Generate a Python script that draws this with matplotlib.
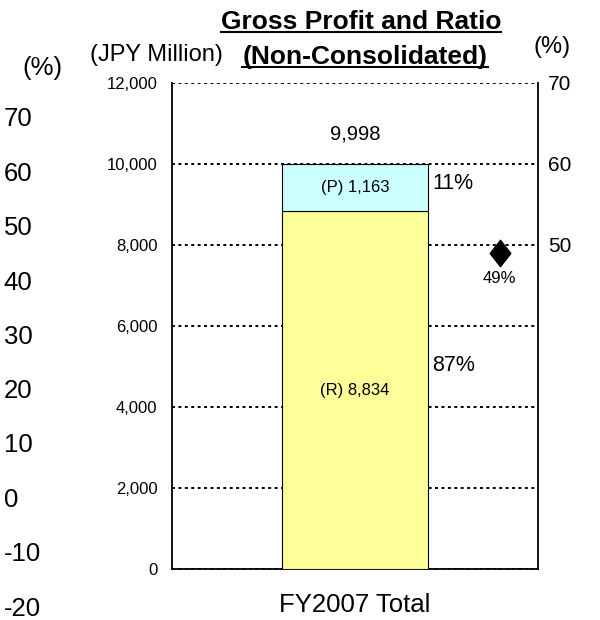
import matplotlib
matplotlib.use('Agg')
import matplotlib.pyplot as plt
from matplotlib.lines import Line2D
from matplotlib.path import Path

plt.rcParams['font.family'] = ['Liberation Sans', 'DejaVu Sans']

# Data
categories = ['FY2007 Total']
r_values = [8834]
p_values = [1163]
total_values = [9998]
r_ratio_labels = ['87%']
p_ratio_labels = ['11%']
gross_ratio = [49]
gross_ratio_labels = ['49%']
left_pct_ticks = [-20, -10, 0, 10, 20, 30, 40, 50, 60, 70]

fig = plt.figure(figsize=(6, 6.2), dpi=100)
ax = fig.add_axes([0.2867, 0.0823, 0.61, 0.7839])

x = [0]
ax.bar(x, r_values, width=0.8, color='#FFFF99', edgecolor='black', linewidth=0.8, zorder=3)
ax.bar(x, p_values, width=0.8, bottom=r_values, color='#CCFFFF', edgecolor='black', linewidth=0.8, zorder=3)

ax.set_xlim(-1, 1)
ax.set_ylim(0, 12000)
ax.set_yticks(range(0, 12001, 2000))
ax.set_yticklabels([f'{v:,}' for v in range(0, 12001, 2000)], fontsize=12)
ax.set_xticks(x)
ax.set_xticklabels(categories, fontsize=18.5)
ax.tick_params(axis='y', length=0, pad=10.5)
ax.tick_params(axis='x', length=0, pad=17)
ax.yaxis.grid(True, linestyle=(0, (1.5, 1.8)), color='black', linewidth=1.4, zorder=1)
ax.set_axisbelow(True)
ax.spines['top'].set_visible(False)
for s in ['left', 'right', 'bottom']:
    ax.spines[s].set_linewidth(1.3)

# Bar labels
for i in range(len(x)):
    ax.text(x[i], r_values[i] / 2, f'(R) {r_values[i]:,}', ha='center', va='center', fontsize=12, zorder=5)
    ax.text(x[i], r_values[i] + p_values[i] / 2, f'(P) {p_values[i]:,}', ha='center', va='center', fontsize=12, zorder=5)
    ax.text(x[i], total_values[i] + 750, f'{total_values[i]:,}', ha='center', va='center', fontsize=14.5)
    ax.text(x[i] + 0.42, r_values[i] + p_values[i] / 2 + 100, p_ratio_labels[i], ha='left', va='center', fontsize=15.5)
    ax.text(x[i] + 0.42, r_values[i] / 2 + 600, r_ratio_labels[i], ha='left', va='center', fontsize=15.5)

# Ratio axis (right)
ax2 = ax.twinx()
ax2.set_ylim(10, 70)
ax2.set_yticks([50, 60, 70])
ax2.set_yticklabels(['50', '60', '70'], fontsize=15)
ax2.tick_params(axis='y', length=0, pad=7)
for s in ax2.spines.values():
    s.set_visible(False)
diamond = Path([(0, 1), (0.78, 0), (0, -1), (-0.78, 0), (0, 1)],
               [Path.MOVETO, Path.LINETO, Path.LINETO, Path.LINETO, Path.CLOSEPOLY])
ax2.plot([0.79], gross_ratio, marker=diamond, markersize=19, color='black', linestyle='none', zorder=6)
ax2.text(0.79, gross_ratio[0] - 3.2, gross_ratio_labels[0], ha='center', va='center', fontsize=12)

# Detached left percentage axis
ax3 = fig.add_axes([0.005, 1 - 606 / 620, 0.001, (606 - 117) / 620])
ax3.set_ylim(-20, 70)
ax3.set_yticks(left_pct_ticks)
ax3.set_yticklabels([str(v) for v in left_pct_ticks], fontsize=18.5)
ax3.yaxis.tick_right()
ax3.tick_params(axis='y', length=0, pad=0)
ax3.set_xticks([])
for s in ax3.spines.values():
    s.set_visible(False)
ax3.patch.set_visible(False)

# Unit labels
fig.text(42 / 600, 1 - 68 / 620, '(%)', ha='center', va='center', fontsize=18.5)
fig.text(156 / 600, 1 - 55 / 620, '(JPY Million)', ha='center', va='center', fontsize=17)
fig.text(552 / 600, 1 - 47 / 620, '(%)', ha='center', va='center', fontsize=17)

# Underlined title
t1 = fig.text(361 / 600, 1 - 22 / 620, 'Gross Profit and Ratio', ha='center', va='center', fontsize=19, fontweight='bold')
t2 = fig.text(365 / 600, 1 - 57 / 620, '(Non-Consolidated)', ha='center', va='center', fontsize=19, fontweight='bold')
fig.canvas.draw()
renderer = fig.canvas.get_renderer()
for t in [t1, t2]:
    bb = t.get_window_extent(renderer).transformed(fig.transFigure.inverted())
    fig.add_artist(Line2D([bb.x0, bb.x1], [bb.y0 + 0.003, bb.y0 + 0.003], color='black', linewidth=1.5, transform=fig.transFigure))

fig.savefig('out.png', dpi=100)
